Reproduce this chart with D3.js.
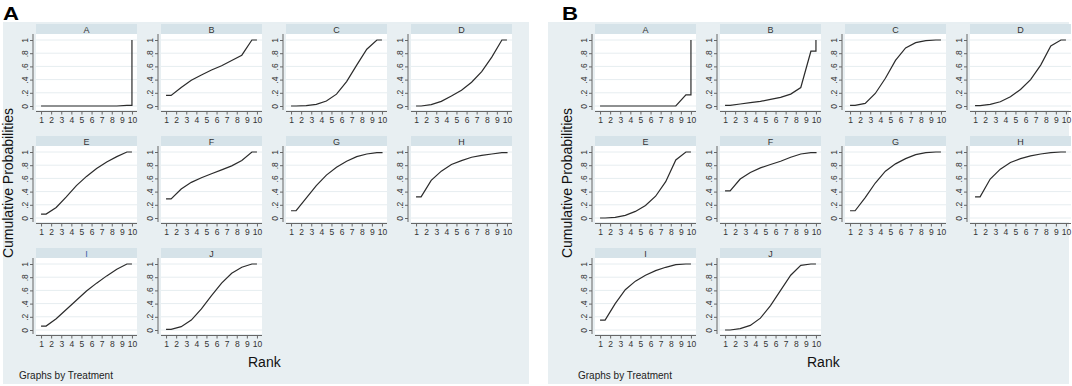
<!DOCTYPE html>
<html>
<head>
<meta charset="utf-8">
<script src="https://cdn.jsdelivr.net/npm/d3@7"></script>
<style>
  body { margin: 0; background: #fff; }
  svg { display: block; font-family: "Liberation Sans", Arial, sans-serif; }
</style>
</head>
<body>
<svg id="chart" width="1072" height="386"></svg>
<script>
// Cumulative ranking probabilities (rank 1..10)
const treatments = ['A', 'B', 'C', 'D', 'E', 'F', 'G', 'H', 'I', 'J'];
const ranks = [1, 2, 3, 4, 5, 6, 7, 8, 9, 10];
const yTicks = [0, 0.2, 0.4, 0.6, 0.8, 1];

const cumProbA = [
  [0, 0, 0, 0, 0, 0, 0, 0, 0.01, 1],
  [0.16, 0.28, 0.39, 0.47, 0.545, 0.61, 0.69, 0.77, 1, 1],
  [0, 0.005, 0.025, 0.075, 0.18, 0.37, 0.62, 0.86, 1, 1],
  [0, 0.02, 0.07, 0.15, 0.24, 0.36, 0.52, 0.74, 1, 1],
  [0.06, 0.16, 0.32, 0.49, 0.63, 0.75, 0.85, 0.93, 1, 1],
  [0.29, 0.44, 0.54, 0.61, 0.67, 0.73, 0.79, 0.87, 1, 1],
  [0.11, 0.3, 0.49, 0.65, 0.77, 0.86, 0.93, 0.97, 0.99, 1],
  [0.32, 0.57, 0.71, 0.81, 0.87, 0.92, 0.95, 0.97, 0.99, 1],
  [0.06, 0.17, 0.31, 0.45, 0.59, 0.71, 0.82, 0.92, 1, 1],
  [0.01, 0.05, 0.15, 0.32, 0.52, 0.71, 0.86, 0.95, 1, 1]
];

const cumProbB = [
  [0, 0, 0, 0, 0, 0, 0, 0, 0.17, 1],
  [0.01, 0.03, 0.05, 0.07, 0.1, 0.13, 0.18, 0.28, 0.83, 1],
  [0.01, 0.04, 0.19, 0.42, 0.69, 0.88, 0.96, 0.99, 1, 1],
  [0.005, 0.025, 0.065, 0.14, 0.25, 0.4, 0.62, 0.91, 1, 1],
  [0, 0.01, 0.04, 0.1, 0.19, 0.33, 0.55, 0.88, 1, 1],
  [0.41, 0.59, 0.69, 0.76, 0.81, 0.86, 0.92, 0.97, 0.99, 1],
  [0.11, 0.31, 0.53, 0.71, 0.82, 0.9, 0.96, 0.99, 1, 1],
  [0.32, 0.59, 0.74, 0.84, 0.9, 0.94, 0.97, 0.99, 1, 1],
  [0.15, 0.4, 0.61, 0.74, 0.83, 0.9, 0.95, 0.99, 1, 1],
  [0, 0.02, 0.07, 0.18, 0.37, 0.6, 0.83, 0.98, 1, 1]
];

// layout
const plotW = 101;
const plotH = 76;
const stripH = 10;
const colStep = 125;
const rowTops = [24, 136, 248];
const bg = '#e8eff2';
const stripFill = '#d6e3e9';

const svg = d3.select('#chart');

const fmt = d => (d === 0 ? '0' : d === 1 ? '1' : String(d).replace('0.', '.'));

// the lines start flat at rank 1 and each rank's value sits half a step to the right
const toPoints = vals => {
  const pts = [[ranks[0], vals[0]]];
  for (let k = 0; k < 9; k++) pts.push([ranks[k] + 0.5, vals[k]]);
  pts.push([ranks[9], vals[8]]);
  pts.push([ranks[9], vals[9]]);
  return pts;
};

const drawPanel = (letter, data, dx, bgBox) => {
  const g = svg.append('g').attr('transform', `translate(${dx},0)`);

  g.append('rect')
    .attr('x', bgBox[0]).attr('y', 22)
    .attr('width', bgBox[1] - bgBox[0]).attr('height', 362)
    .attr('fill', bg);

  svg.append('text')
    .attr('transform', `translate(${dx + 3},19.5) scale(1.2,1)`)
    .attr('font-size', 18.5).attr('font-weight', 'bold')
    .attr('fill', '#000')
    .text(letter);

  data.forEach((vals, i) => {
    const col = i % 4;
    const row = Math.floor(i / 4);
    const x0 = 36 + col * colStep;
    const top = rowTops[row];
    const y0 = top + stripH;

    const x = d3.scaleLinear().domain([0.5, 10.5]).range([x0, x0 + plotW]);
    const y = d3.scaleLinear().domain([0, 1]).range([y0 + 72, y0 + 6]);

    const cell = g.append('g');

    // strip
    cell.append('rect')
      .attr('x', x0).attr('y', top).attr('width', plotW).attr('height', stripH)
      .attr('fill', stripFill);
    cell.append('text')
      .attr('x', x0 + plotW / 2).attr('y', top + 8.5)
      .attr('text-anchor', 'middle')
      .attr('font-size', 9)
      .attr('fill', letter === 'A' && treatments[i] === 'I' ? '#3a62a8' : '#333')
      .text(treatments[i]);

    // plot region
    cell.append('rect')
      .attr('x', x0).attr('y', y0).attr('width', plotW).attr('height', plotH)
      .attr('fill', '#fff');

    cell.selectAll('line.grid')
      .data(yTicks)
      .join('line')
      .attr('class', 'grid')
      .attr('x1', x0).attr('x2', x0 + plotW)
      .attr('y1', d => y(d)).attr('y2', d => y(d))
      .attr('stroke', '#e6edf0').attr('stroke-width', 1);

    // axes
    const yAxis = cell.append('g')
      .attr('transform', `translate(${x0 - 3},0)`)
      .call(d3.axisLeft(y).tickValues(yTicks).tickFormat(fmt).tickSize(3).tickSizeOuter(0));
    yAxis.select('.domain').remove();
    yAxis.selectAll('line').attr('stroke', '#666');
    yAxis.selectAll('text')
      .attr('x', null).attr('dy', null)
      .attr('text-anchor', 'middle')
      .attr('transform', 'translate(-5,0) rotate(-90)')
      .attr('font-size', 8.5).attr('fill', '#333');
    yAxis.append('line')
      .attr('x1', 0).attr('x2', 0).attr('y1', y0).attr('y2', y0 + plotH)
      .attr('stroke', '#666');

    const xAxis = cell.append('g')
      .attr('transform', `translate(0,${y0 + plotH + 1.5})`)
      .call(d3.axisBottom(x).tickValues(ranks).tickSize(3).tickPadding(2).tickSizeOuter(0));
    xAxis.select('.domain').remove();
    xAxis.selectAll('line').attr('stroke', '#666');
    xAxis.selectAll('text').attr('font-size', 8.5).attr('fill', '#333');
    xAxis.append('line')
      .attr('x1', x0).attr('x2', x0 + plotW).attr('y1', 0).attr('y2', 0)
      .attr('stroke', '#666');

    // the cumulative line
    cell.append('path')
      .datum(toPoints(vals))
      .attr('d', d3.line().x(d => x(d[0])).y(d => y(d[1])))
      .attr('fill', 'none')
      .attr('stroke', '#2b2b2b')
      .attr('stroke-width', 1.2);
  });

  // titles
  g.append('text')
    .attr('transform', 'translate(13,183) rotate(-90)')
    .attr('text-anchor', 'middle')
    .attr('font-size', 14).attr('fill', '#111')
    .text('Cumulative Probabilities');
  g.append('text')
    .attr('x', 248).attr('y', 367)
    .attr('font-size', 14).attr('fill', '#111')
    .text('Rank');
  g.append('text')
    .attr('x', 19).attr('y', 379)
    .attr('font-size', 10).attr('fill', '#222')
    .text('Graphs by Treatment');
};

drawPanel('A', cumProbA, 0, [3, 529]);
drawPanel('B', cumProbB, 559, [-11, 510]);
</script>
</body>
</html>
